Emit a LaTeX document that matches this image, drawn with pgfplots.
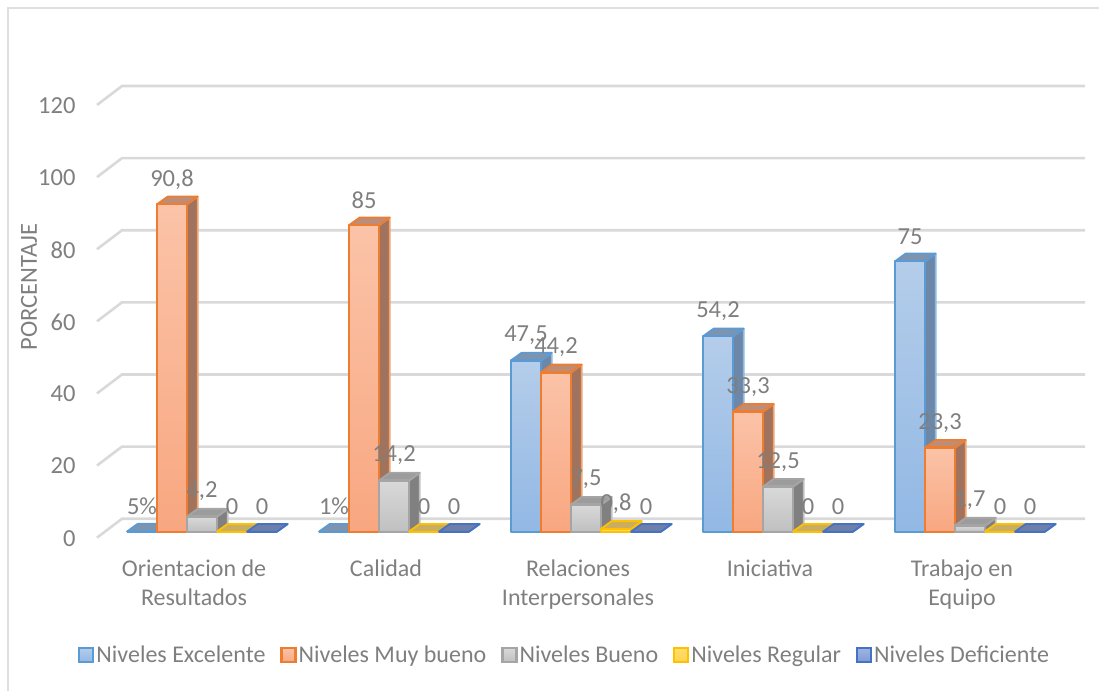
\documentclass[border=0pt]{standalone}
\usepackage{fontspec}
\setmainfont{Carlito}
\usepackage{pgfplots}
\usepackage{pgfplotstable}
\pgfplotsset{compat=1.18}

\definecolor{rejilla}{HTML}{D9D9D9}
\definecolor{texto}{HTML}{7F7F7F}
\definecolor{bordeE}{HTML}{5B9BD5}
\definecolor{bordeM}{HTML}{ED7D31}
\definecolor{bordeB}{HTML}{A5A5A5}
\definecolor{bordeR}{HTML}{FFC000}
\definecolor{bordeD}{HTML}{4472C4}
% gradient ends of the front faces
\definecolor{altoE}{HTML}{B4CDEA}
\definecolor{bajoE}{HTML}{92B8E4}
\definecolor{altoM}{HTML}{FBC3A8}
\definecolor{bajoM}{HTML}{F8A780}
\definecolor{altoB}{HTML}{D9D9D9}
\definecolor{bajoB}{HTML}{C0C0C0}
\definecolor{altoR}{HTML}{FFDD71}
\definecolor{bajoR}{HTML}{FFD34D}
\definecolor{altoD}{HTML}{A1B4E0}
\definecolor{bajoD}{HTML}{7F9BD6}
% shaded top and side faces
\definecolor{tapaE}{HTML}{7E93AE}
\definecolor{ladoE}{HTML}{6C87A8}
\definecolor{tapaM}{HTML}{BE8D77}
\definecolor{ladoM}{HTML}{A2735C}
\definecolor{tapaB}{HTML}{9C9C9C}
\definecolor{ladoB}{HTML}{808080}
\definecolor{tapaR}{HTML}{C9AD62}
\definecolor{ladoR}{HTML}{A08850}
\definecolor{tapaD}{HTML}{6F7FA8}
\definecolor{ladoD}{HTML}{5A6A90}

% Bar values and their printed labels, one table per series
\pgfplotstableread{
grupo valor etiqueta
0 0.05 5\%
1 0.01 1\%
2 47.5 47,5
3 54.2 54,2
4 75 75
}\tablaExcelente
\pgfplotstableread{
grupo valor etiqueta
0 90.8 90,8
1 85 85
2 44.2 44,2
3 33.3 33,3
4 23.3 23,3
}\tablaMuyBueno
\pgfplotstableread{
grupo valor etiqueta
0 4.2 4,2
1 14.2 14,2
2 7.5 7,5
3 12.5 12,5
4 1.7 1,7
}\tablaBueno
\pgfplotstableread{
grupo valor etiqueta
0 0 0
1 0 0
2 0.8 0,8
3 0 0
4 0 0
}\tablaRegular
\pgfplotstableread{
grupo valor etiqueta
0 0 0
1 0 0
2 0 0
3 0 0
4 0 0
}\tablaDeficiente

% Width of one bar and depth of the extruded faces, in axis units
\def\anchoBarra{0.15625}
\def\fondoX{0.0556}
\def\fondoY{2.13}

\tikzset{
  frenteE/.style={draw=bordeE, top color=altoE, bottom color=bajoE},
  frenteM/.style={draw=bordeM, top color=altoM, bottom color=bajoM},
  frenteB/.style={draw=bordeB, top color=altoB, bottom color=bajoB},
  frenteR/.style={draw=bordeR, top color=altoR, bottom color=bajoR},
  frenteD/.style={draw=bordeD, top color=altoD, bottom color=bajoD},
  muestra/.style={line width=2.2pt},
}

% #1 table, #2 series index, #3 border, #4 front style, #5 top face, #6 side face
\newcommand{\serieBarras}[6]{%
  \pgfplotsforeachungrouped \fila in {0,...,4}{%
    \pgfplotstablegetelem{\fila}{valor}\of#1
    \let\val\pgfplotsretval
    \pgfmathsetmacro{\xa}{\fila+(#2-2.5)*\anchoBarra}
    \pgfmathsetmacro{\xb}{\xa+\anchoBarra}
    \pgfmathsetmacro{\xc}{\xa+\fondoX}
    \pgfmathsetmacro{\xd}{\xb+\fondoX}
    \pgfmathsetmacro{\yt}{\val+\fondoY}
    \edef\caras{%
      \noexpand\addplot[draw=#3!70!white, fill=#6, line width=1.8pt, line join=round, forget plot]
        coordinates {(\xb,0) (\xd,\fondoY) (\xd,\yt) (\xb,\val)} --cycle;
      \noexpand\addplot[draw=#3, fill=#5, line width=1.8pt, line join=round, forget plot]
        coordinates {(\xa,\val) (\xb,\val) (\xd,\yt) (\xc,\yt)} --cycle;
    }\caras
    \pgfmathparse{\val>=0.5 ? 1 : 0}
    \ifnum\pgfmathresult=1
      \edef\frente{%
        \noexpand\addplot[#4, line width=2.4pt, line join=round, forget plot]
          coordinates {(\xa,0) (\xb,0) (\xb,\val) (\xa,\val)} --cycle;
      }\frente
    \else
      \edef\frente{%
        \noexpand\addplot[draw=#3, line width=2.2pt, forget plot]
          coordinates {(\xa,\val) (\xb,\val)};
      }\frente
    \fi
  }%
}

% #1 table, #2 series index: value labels above the front of each bar
\newcommand{\etiquetas}[2]{%
  \addplot[draw=none, mark=none, forget plot, nodes near coords,
    point meta=explicit symbolic,
    nodes near coords style={anchor=center, yshift=25pt, text=texto, inner sep=0pt,
      font=\fontsize{24.5}{29}\selectfont}]
    table[x expr={\thisrow{grupo}+(#2-2)*\anchoBarra}, y=valor, meta=etiqueta]{#1};
}

\begin{document}
\begin{tikzpicture}
  \useasboundingbox (-97pt,-159.3pt) rectangle (1002pt,531.7pt);
  % chart area border: left and top edges only
  \draw[color=rejilla!85, line width=2pt] (-88.7pt,-159.3pt) -- (-88.7pt,523.2pt) -- (1002pt,523.2pt);
  \begin{axis}[
    at={(0pt,0pt)}, anchor=south west,
    scale only axis, width=988pt, height=445.7pt,
    xmin=-0.546875, xmax=4.59896, ymin=0, ymax=123.6,
    clip=false,
    axis line style={draw=none},
    major tick length=0pt,
    /pgf/number format/assume math mode=true,
    ytick={0,20,40,60,80,100,120},
    yticklabel style={text=texto, font=\fontsize{24.5}{29}\selectfont, xshift=-18pt, yshift=-6.5pt},
    xtick={0,1,2,3,4},
    xticklabels={{Orientacion de\\Resultados},{Calidad},{Relaciones\\Interpersonales},{Iniciativa},{Trabajo en\\Equipo}},
    xticklabel style={text=texto, align=center, font=\fontsize{24}{29}\selectfont, xshift=-8pt, yshift=-25pt},
    ylabel={PORCENTAJE},
    ylabel style={at={(axis description cs:-0.0688,0.5490)}, anchor=center, text=texto,
      font=\fontsize{24.5}{29}\selectfont},
    legend columns=5,
    legend cell align=left,
    legend style={at={(axis description cs:-0.0192,-0.2766)}, anchor=west, draw=none, fill=none,
      inner sep=0pt, text=texto, font=\fontsize{24}{29}\selectfont,
      /tikz/every even column/.append style={column sep=13pt},
      /tikz/every odd column/.append style={column sep=0pt}},
  ]
    \addlegendimage{legend image code/.code={\draw[frenteE,muestra] (0pt,-7pt) rectangle (14pt,7pt);}}
    \addlegendentry{Niveles Excelente}
    \addlegendimage{legend image code/.code={\draw[frenteM,muestra] (0pt,-7pt) rectangle (14pt,7pt);}}
    \addlegendentry{Niveles Muy bueno}
    \addlegendimage{legend image code/.code={\draw[frenteB,muestra] (0pt,-7pt) rectangle (14pt,7pt);}}
    \addlegendentry{Niveles Bueno}
    \addlegendimage{legend image code/.code={\draw[frenteR,muestra] (0pt,-7pt) rectangle (14pt,7pt);}}
    \addlegendentry{Niveles Regular}
    \addlegendimage{legend image code/.code={\draw[frenteD,muestra] (0pt,-7pt) rectangle (14pt,7pt);}}
    \addlegendentry{Niveles Deficiente}

    % gridlines: slanted floor edge, then the run along the back wall
    \addplot[rejilla, line width=2.6pt, forget plot] coordinates {(-0.546875,-1.66) (-0.41667,3.6) (4.59896,3.6)};
    \addplot[rejilla, line width=2.6pt, forget plot] coordinates {(-0.546875,18.34) (-0.41667,23.6) (4.59896,23.6)};
    \addplot[rejilla, line width=2.6pt, forget plot] coordinates {(-0.546875,38.34) (-0.41667,43.6) (4.59896,43.6)};
    \addplot[rejilla, line width=2.6pt, forget plot] coordinates {(-0.546875,58.34) (-0.41667,63.6) (4.59896,63.6)};
    \addplot[rejilla, line width=2.6pt, forget plot] coordinates {(-0.546875,78.34) (-0.41667,83.6) (4.59896,83.6)};
    \addplot[rejilla, line width=2.6pt, forget plot] coordinates {(-0.546875,98.34) (-0.41667,103.6) (4.59896,103.6)};
    \addplot[rejilla, line width=2.6pt, forget plot] coordinates {(-0.546875,118.34) (-0.41667,123.6) (4.59896,123.6)};

    \serieBarras{\tablaExcelente}{0}{bordeE}{frenteE}{tapaE}{ladoE}
    \serieBarras{\tablaMuyBueno}{1}{bordeM}{frenteM}{tapaM}{ladoM}
    \serieBarras{\tablaBueno}{2}{bordeB}{frenteB}{tapaB}{ladoB}
    \serieBarras{\tablaRegular}{3}{bordeR}{frenteR}{tapaR}{ladoR}
    \serieBarras{\tablaDeficiente}{4}{bordeD}{frenteD}{tapaD}{ladoD}

    \etiquetas{\tablaExcelente}{0}
    \etiquetas{\tablaMuyBueno}{1}
    \etiquetas{\tablaBueno}{2}
    \etiquetas{\tablaRegular}{3}
    \etiquetas{\tablaDeficiente}{4}
  \end{axis}
\end{tikzpicture}
\end{document}
